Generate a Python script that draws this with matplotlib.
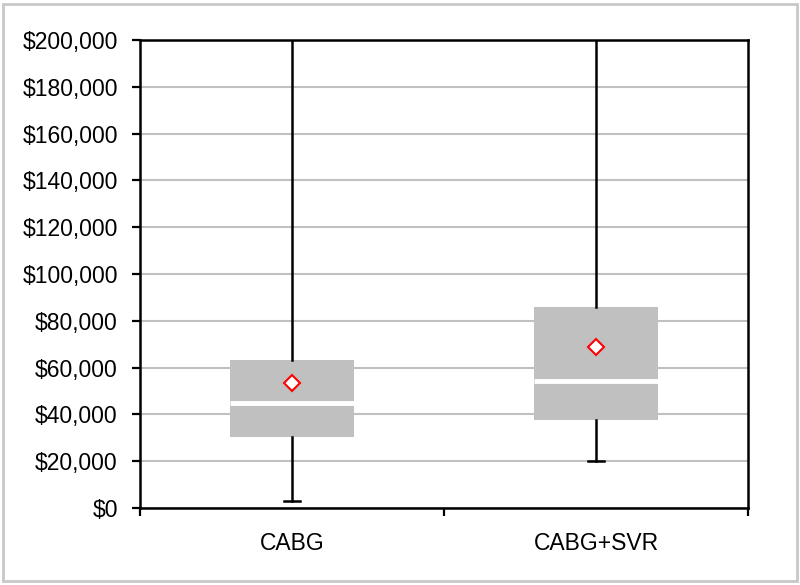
import matplotlib
matplotlib.use("Agg")
from matplotlib import pyplot as plt
from matplotlib.patches import Rectangle
from matplotlib.ticker import FuncFormatter, FixedLocator

# box plot values
categories = ["CABG", "CABG+SVR"]
whisker_lo = [3000, 20000]
q1 = [30300, 37600]
median = [44900, 54300]
q3 = [63200, 85800]
mean = [53500, 69000]
whisker_hi = [260000, 260000]   # runs off the top of the chart
y_ticks = list(range(0, 200001, 20000))

stats = []
for i, name in enumerate(categories):
    stats.append(dict(label=name, whislo=whisker_lo[i], q1=q1[i], med=median[i],
                      q3=q3[i], whishi=whisker_hi[i], mean=mean[i], fliers=[]))

plt.rcParams["font.family"] = ["Liberation Sans", "DejaVu Sans"]

fig = plt.figure(figsize=(8, 5.85), dpi=100)
ax = fig.add_axes([0.175, 0.1316, 0.76, 0.80])

pos = [1, 2]
ax.bxp(stats, positions=pos, widths=0.405, patch_artist=True, showmeans=True,
       capwidths=0.05, showcaps=True,
       boxprops=dict(facecolor="#c0c0c0", edgecolor="none", linewidth=0),
       medianprops=dict(color="white", linewidth=3.5, solid_capstyle="butt"),
       whiskerprops=dict(color="black", linewidth=1.8),
       capprops=dict(color="black", linewidth=1.8),
       meanprops=dict(marker="D", markerfacecolor="white", markeredgecolor="#ff0000",
                      markersize=8.5, markeredgewidth=1.5),
       zorder=3)

ax.set_ylim(0, 200000)
ax.set_xlim(0.5, 2.5)
ax.yaxis.set_major_locator(FixedLocator(y_ticks))
ax.yaxis.set_major_formatter(FuncFormatter(lambda v, p: "${:,.0f}".format(v)))
ax.grid(axis="y", color="#c0c0c0", linewidth=1.5, zorder=0)
ax.set_axisbelow(True)

ax.set_xticks(pos)
ax.set_xticklabels(categories)
ax.set_xticks([0.5, 1.5, 2.5], minor=True)
ax.tick_params(axis="x", which="major", length=0, pad=17, labelsize=16.5)
ax.tick_params(axis="x", which="minor", length=6, width=1.6, direction="out")
ax.tick_params(axis="y", length=6, width=1.6, direction="out", pad=10, labelsize=16.5)

for s in ax.spines.values():
    s.set_linewidth(1.8)
    s.set_color("black")

fig.patches.append(Rectangle((0.004, 0.006), 0.992, 0.988, transform=fig.transFigure,
                             fill=False, edgecolor="#c8c8c8", linewidth=2))

fig.savefig("out.png", dpi=100)
